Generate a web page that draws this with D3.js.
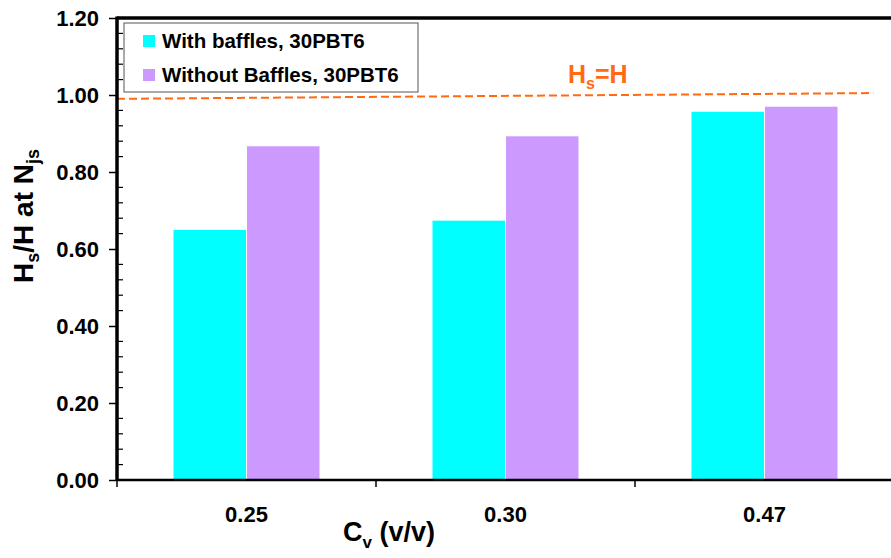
<!DOCTYPE html>
<html>
<head>
<meta charset="utf-8">
<script src="https://d3js.org/d3.v7.min.js"></script>
<style>
  body { margin: 0; background: #fff; }
  text { font-family: Arial, "Liberation Sans", sans-serif; font-weight: bold; }
</style>
</head>
<body>
<svg id="chart" width="891" height="558"></svg>
<script>
// data
var categories = ["0.25", "0.30", "0.47"];
var seriesNames = ["With baffles, 30PBT6", "Without Baffles, 30PBT6"];
var withBaffles = [0.651, 0.675, 0.958];
var withoutBaffles = [0.868, 0.894, 0.971];
var yTicks = [0.0, 0.2, 0.4, 0.6, 0.8, 1.0, 1.2];
var refLine = [0.99, 1.005];   // dashed Hs=H line, left end / right end
var colors = ["#00FFFF", "#CC99FF"];

var svg = d3.select("#chart");
var plotLeft = 117, plotTop = 18, plotBottom = 480, step = 259;

var x = d3.scaleBand().domain(categories).range([plotLeft, plotLeft + step * categories.length]).padding(0);
var x1 = d3.scaleBand().domain(seriesNames).range([0, x.bandwidth()]).paddingInner(0).paddingOuter(0.762);
var y = d3.scaleLinear().domain([0, 1.2]).range([plotBottom, plotTop]);

var rows = categories.map(function (c, i) {
    return { cat: c, values: [withBaffles[i], withoutBaffles[i]] };
});

// bars
svg.append("g").selectAll("g")
    .data(rows)
    .join("g")
    .attr("transform", d => "translate(" + x(d.cat) + ",0)")
    .selectAll("rect")
    .data(d => d.values.map((v, j) => ({ name: seriesNames[j], v: v, c: colors[j] })))
    .join("rect")
    .attr("x", d => x1(d.name))
    .attr("width", x1.bandwidth())
    .attr("y", d => y(d.v))
    .attr("height", d => y(0) - y(d.v))
    .attr("fill", d => d.c)
    .attr("stroke", "#fff")
    .attr("stroke-width", 1);

// dashed reference line
var xc = d3.scaleLinear().domain([0, categories.length]).range(x.range());
svg.append("line")
    .attr("x1", xc(0)).attr("y1", y(refLine[0]))
    .attr("x2", xc(2.92)).attr("y2", y(refLine[1]))
    .attr("stroke", "#FF6A13")
    .attr("stroke-width", 2)
    .attr("stroke-dasharray", "8,4");

var lbl = svg.append("text")
    .attr("x", 568).attr("y", 83)
    .attr("fill", "#FF6A13")
    .style("font-size", "25px");
lbl.append("tspan").text("H");
lbl.append("tspan").attr("dy", 6).style("font-size", "16px").text("s");
lbl.append("tspan").attr("dy", -6).text("=H");

// y axis, major ticks outward
var yAxis = svg.append("g")
    .attr("transform", "translate(" + plotLeft + ",0)")
    .call(d3.axisLeft(y).tickValues(yTicks).tickFormat(d3.format(".2f")).tickSize(8).tickPadding(10));
yAxis.select(".domain").remove();
yAxis.selectAll(".tick line").attr("stroke", "#000").attr("stroke-width", 1.5);
yAxis.selectAll(".tick text").style("font-size", "22px").attr("fill", "#000").attr("dy", "0.36em");

// minor ticks inward
var minor = d3.range(0, 1.2001, 0.04).filter(v => Math.abs(v * 5 - Math.round(v * 5)) > 1e-6);
svg.append("g").selectAll("line")
    .data(minor)
    .join("line")
    .attr("x1", plotLeft).attr("x2", plotLeft + 6)
    .attr("y1", d => y(d)).attr("y2", d => y(d))
    .attr("stroke", "#000").attr("stroke-width", 1.2);

// x axis ticks at category boundaries
var bounds = d3.range(0, categories.length + 1);
svg.append("g").selectAll("line")
    .data(bounds)
    .join("line")
    .attr("x1", d => xc(d)).attr("x2", d => xc(d))
    .attr("y1", plotBottom).attr("y2", plotBottom + 7)
    .attr("stroke", "#000").attr("stroke-width", 1.5);

svg.append("g").selectAll("text")
    .data(categories)
    .join("text")
    .attr("x", d => x(d) + x.bandwidth() / 2)
    .attr("y", 522)
    .attr("text-anchor", "middle")
    .style("font-size", "22px")
    .text(d => d);

// frame lines
svg.append("line").attr("x1", plotLeft).attr("x2", 891).attr("y1", plotBottom).attr("y2", plotBottom)
    .attr("stroke", "#000").attr("stroke-width", 2.5);
svg.append("line").attr("x1", plotLeft).attr("x2", 891).attr("y1", plotTop).attr("y2", plotTop)
    .attr("stroke", "#000").attr("stroke-width", 3.5);
svg.append("line").attr("x1", plotLeft).attr("x2", plotLeft).attr("y1", plotTop - 1.5).attr("y2", plotBottom + 1)
    .attr("stroke", "#000").attr("stroke-width", 3.5);

// axis titles
var xt = svg.append("text").attr("x", 343).attr("y", 541).style("font-size", "27px");
xt.append("tspan").text("C");
xt.append("tspan").attr("dy", 7).style("font-size", "17px").text("v");
xt.append("tspan").attr("dy", -7).text(" (v/v)");

var yt = svg.append("text")
    .attr("transform", "translate(33,216) rotate(-90)")
    .attr("text-anchor", "middle")
    .style("font-size", "28px");
yt.append("tspan").text("H");
yt.append("tspan").attr("dy", 6).style("font-size", "18px").text("s");
yt.append("tspan").attr("dy", -6).text("/H at N");
yt.append("tspan").attr("dy", 6).style("font-size", "18px").text("js");

// legend
var legend = svg.append("g").attr("transform", "translate(124,23)");
legend.append("rect")
    .attr("width", 294).attr("height", 69)
    .attr("fill", "#fff").attr("stroke", "#555").attr("stroke-width", 1);
var li = legend.selectAll("g.item")
    .data(seriesNames)
    .join("g")
    .attr("class", "item")
    .attr("transform", (d, i) => "translate(19," + (12 + i * 34) + ")");
li.append("rect").attr("width", 12).attr("height", 12).attr("fill", (d, i) => colors[i]);
li.append("text").attr("x", 19).attr("y", 13).style("font-size", "20.5px").text(d => d);
</script>
</body>
</html>
